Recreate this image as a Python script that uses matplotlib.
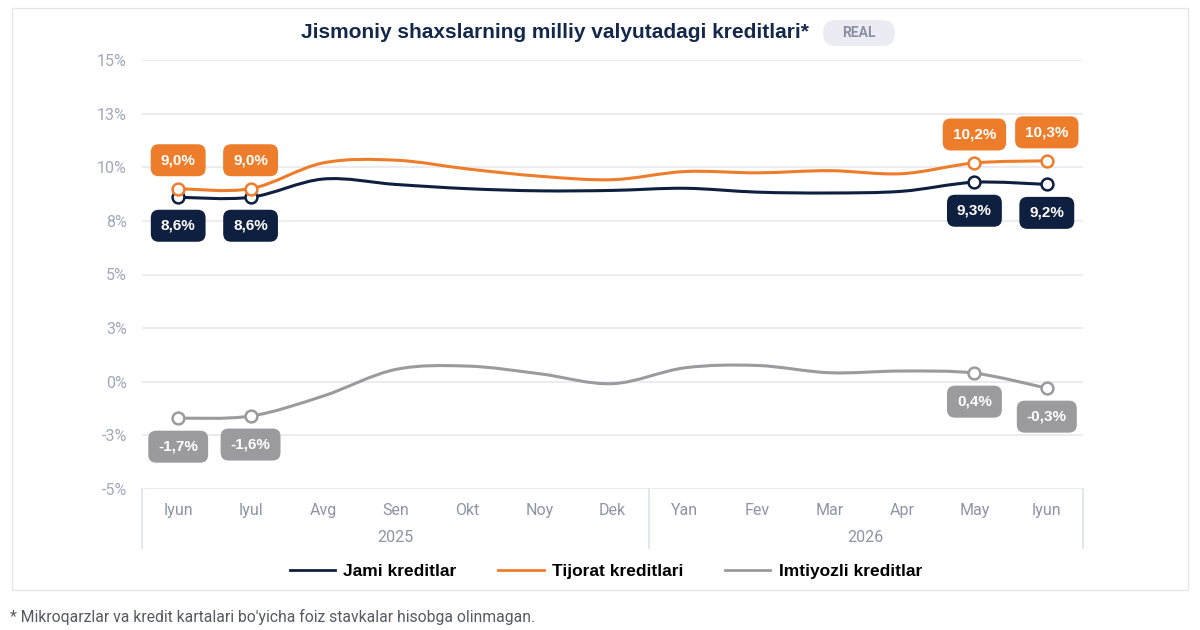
import matplotlib.pyplot as plt
import numpy as np
from matplotlib.path import Path
from matplotlib.patches import PathPatch, Rectangle, FancyBboxPatch
from matplotlib.lines import Line2D
import matplotlib.transforms as mtransforms

plt.rcParams['font.family'] = ['Roboto', 'DejaVu Sans']

months = ["Iyun", "Iyul", "Avg", "Sen", "Okt", "Noy", "Dek",
          "Yan", "Fev", "Mar", "Apr", "May", "Iyun"]
years = ["2025", "2026"]
year_spans = [(0, 6), (7, 12)]

jami = [8.6, 8.6, 9.45, 9.2, 9.0, 8.9, 8.92, 9.02, 8.84, 8.8, 8.88, 9.3, 9.2]
tijorat = [9.0, 9.0, 10.2, 10.33, 9.92, 9.58, 9.42, 9.8, 9.74, 9.84, 9.7, 10.2, 10.3]
imtiyozli = [-1.7, -1.6, -0.67, 0.57, 0.73, 0.37, -0.09, 0.65, 0.76, 0.42, 0.5, 0.4, -0.3]

yticks = [-5, -2.5, 0, 2.5, 5, 7.5, 10, 12.5, 15]
ytick_labels = ["-5%", "-3%", "0%", "3%", "5%", "8%", "10%", "13%", "15%"]

series = [
    ("Jami kreditlar", jami, "#0f1f3f", -1),
    ("Tijorat kreditlari", tijorat, "#ee7d2b", 1),
    ("Imtiyozli kreditlar", imtiyozli, "#9b9b9d", -1),
]
labeled_idx = [0, 1, 11, 12]


def smooth_path(xs, ys, k=1 / 6):
    # catmull-rom style bezier through the points
    pts = np.column_stack([xs, ys]).astype(float)
    n = len(pts)
    verts = [pts[0]]
    codes = [Path.MOVETO]
    for i in range(n - 1):
        p0 = pts[max(i - 1, 0)]
        p1 = pts[i]
        p2 = pts[i + 1]
        p3 = pts[min(i + 2, n - 1)]
        c1 = p1 + (p2 - p0) * k
        c2 = p2 - (p3 - p1) * k
        verts += [c1, c2, p2]
        codes += [Path.CURVE4] * 3
    return Path(verts, codes)


fig = plt.figure(figsize=(12, 6.3), dpi=100)
# card frame, in inches (1 inch = 100 px)
fig.patches.append(Rectangle((0.12, 0.40), 11.76, 5.82, transform=fig.dpi_scale_trans,
                             fc="white", ec="#e6e6e6", lw=1, zorder=-10))

ax = fig.add_axes([142 / 1200, 1 - 489 / 630, 941 / 1200, 429 / 630])
ax.set_facecolor("none")
ax.set_xlim(-0.5, 12.5)
ax.set_ylim(-5, 15)
x = np.arange(len(months))

labels = []
for name, vals, color, side in series:
    p = PathPatch(smooth_path(x, vals), fc="none", ec=color, lw=2.2,
                  capstyle="round", joinstyle="round", zorder=3)
    ax.add_patch(p)
    for i in labeled_idx:
        ax.plot(x[i], vals[i], "o", ms=8.5, mfc="white", mec=color, mew=1.8, zorder=5)
        t = ax.annotate(f"{vals[i]:.1f}%".replace(".", ","), (x[i], vals[i]),
                        xytext=(0, 20.5 * side), textcoords="offset points",
                        ha="center", va="center", color="white", fontsize=11,
                        fontweight="bold", zorder=7,
                        family=["Liberation Sans", "DejaVu Sans"])
        labels.append((t, x[i], vals[i], side, color))

# rounded boxes behind the value labels, sized from the text
renderer = fig.canvas.get_renderer()
for t, xv, yv, side, color in labels:
    bb = t.get_window_extent(renderer)
    w = (bb.width + 20) / 100
    h = 0.32
    dy = 20.5 * side / 72
    tr = fig.dpi_scale_trans + mtransforms.ScaledTranslation(xv, yv, ax.transData)
    ax.add_patch(FancyBboxPatch((-w / 2, dy - h / 2), w, h,
                                boxstyle="round,pad=0,rounding_size=0.08",
                                transform=tr, fc=color, ec="none", zorder=6,
                                clip_on=False))

ax.set_yticks(yticks)
ax.set_yticklabels(ytick_labels)
ax.set_xticks(x)
ax.set_xticklabels(months)
ax.grid(axis="y", color="#e6e9f0", lw=1.2)
ax.set_axisbelow(True)
for s in ax.spines.values():
    s.set_visible(False)
ax.tick_params(axis="y", length=0, pad=11, labelsize=11.5, labelcolor="#a0a8ba")
ax.tick_params(axis="x", length=0, pad=10, labelsize=11.5, labelcolor="#8c94a6")

# year group box under the x axis
trans = mtransforms.blended_transform_factory(ax.transData, ax.transAxes)
for xv in [-0.5, 6.5, 12.5]:
    ax.add_line(Line2D([xv, xv], [0, -0.137], transform=trans, color="#dde1ea",
                       lw=1.2, clip_on=False))
for yr, (a, b) in zip(years, year_spans):
    ax.text((a + b) / 2, -0.114, yr, transform=trans, ha="center", va="center",
            fontsize=11.5, color="#8c94a6")

fig.text(555 / 1200, 1 - 33 / 630, "Jismoniy shaxslarning milliy valyutadagi kreditlari*",
         ha="center", va="center", fontsize=15, fontweight="bold", color="#14284b",
         family=["Liberation Sans", "DejaVu Sans"])
fig.patches.append(FancyBboxPatch((8.23, 5.84), 0.72, 0.26,
                                  boxstyle="round,pad=0,rounding_size=0.13",
                                  transform=fig.dpi_scale_trans, fc="#ebecf3", ec="none"))
fig.text(859 / 1200, 1 - 33 / 630, "REAL", ha="center", va="center", fontsize=10,
         fontweight="bold", color="#8a8fa3")

handles = [Line2D([], [], color=c, lw=2) for _, _, c, _ in series]
fig.legend(handles, [n for n, _, _, _ in series], loc="center",
           bbox_to_anchor=(606 / 1200, 1 - 571 / 630), ncol=3, frameon=False,
           prop={"weight": "bold", "size": 12.5, "family": ["Liberation Sans", "DejaVu Sans"]},
           handlelength=2.6, columnspacing=2.4, handletextpad=0.5)

fig.text(10 / 1200, 1 - 617 / 630,
         "* Mikroqarzlar va kredit kartalari bo'yicha foiz stavkalar hisobga olinmagan.",
         ha="left", va="center", fontsize=11.3, color="#555a63")

fig.savefig("out.png", dpi=100)
